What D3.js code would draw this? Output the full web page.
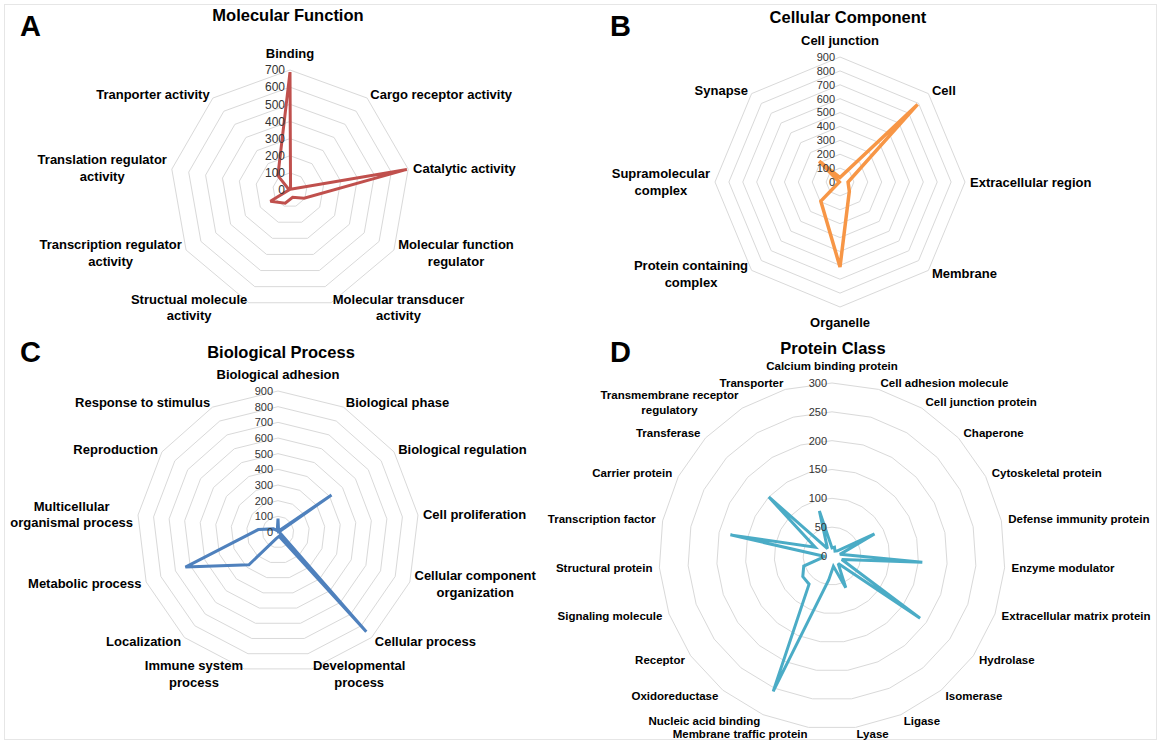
<!DOCTYPE html>
<html>
<head>
<meta charset="utf-8">
<script src="https://cdn.jsdelivr.net/npm/d3@7"></script>
<style>
  body { margin: 0; background: #fff; }
  svg { display: block; font-family: "Liberation Sans", Arial, sans-serif; }
</style>
</head>
<body>
<svg id="fig" width="1160" height="743"></svg>
<script>
// ---- Molecular Function ----
const mfCategories = ["Binding", "Cargo receptor activity", "Catalytic activity",
  "Molecular function\nregulator", "Molecular transducer\nactivity", "Structual molecule\nactivity",
  "Transcription regulator\nactivity", "Translation regulator\nactivity", "Tranporter activity"];
const mfValues = [688, 5, 692, 95, 45, 82, 132, 5, 110];
const mfTicks = [0, 100, 200, 300, 400, 500, 600, 700];

// ---- Cellular Component ----
const ccCategories = ["Cell junction", "Cell", "Extracellular region", "Membrane", "Organelle",
  "Protein containing\ncomplex", "Supramolecular\ncomplex", "Synapse"];
const ccValues = [32, 790, 58, 95, 612, 195, 5, 212];
const ccTicks = [0, 100, 200, 300, 400, 500, 600, 700, 800, 900];

// ---- Biological Process ----
const bpCategories = ["Biological adhesion", "Biological phase", "Biological regulation",
  "Cell proliferation", "Cellular component\norganization", "Cellular process",
  "Developmental\nprocess", "Immune system\nprocess", "Localization", "Metabolic process",
  "Multicellular\norganismal process", "Reproduction", "Response to stimulus"];
const bpValues = [85, 8, 415, 5, 12, 850, 28, 42, 280, 632, 127, 35, 10];
const bpTicks = [0, 100, 200, 300, 400, 500, 600, 700, 800, 900];

// ---- Protein Class ----
const pcCategories = ["Calcium binding protein", "Cell adhesion molecule", "Cell junction protein",
  "Chaperone", "Cytoskeletal protein", "Defense immunity protein", "Enzyme modulator",
  "Extracellular matrix protein", "Hydrolase", "Isomerase", "Ligase", "Lyase",
  "Membrane traffic protein", "Nucleic acid binding", "Oxidoreductase", "Receptor",
  "Signaling molecule", "Structural protein", "Transcription factor", "Carrier protein",
  "Transferase", "Transmembrane receptor\nregulatory", "Transporter"];
const pcValues = [14, 16, 10, 13, 83, 14, 157, 18, 187, 17, 60, 18, 42, 256, 63, 62, 52, 12, 180, 33, 150, 15, 81];
const pcTicks = [0, 50, 100, 150, 200, 250, 300];

const svg = d3.select("#fig");

// light frame around the whole figure
svg.append("rect").attr("x", 4.5).attr("y", 4.5).attr("width", 1152).attr("height", 735)
  .attr("fill", "none").attr("stroke", "#e6e6e6");

function radar(opt) {
  const n = opt.categories.length;
  const R = opt.radius;
  const r = d3.scaleLinear().domain([0, d3.max(opt.ticks)]).range([0, R]);
  const a = d3.scaleLinear().domain([0, n]).range([0, 2 * Math.PI]);
  const shape = d3.lineRadial()
    .angle((d, i) => a(i))
    .radius(d => r(d))
    .curve(d3.curveLinearClosed);

  // panel letter and title
  svg.append("text").attr("x", opt.letterX).attr("y", opt.letterY)
    .attr("font-size", 29).attr("font-weight", "bold").attr("fill", "#000").text(opt.letter);
  svg.append("text").attr("x", opt.titleX).attr("y", opt.titleY)
    .attr("text-anchor", "middle").attr("font-size", 16.5).attr("font-weight", "bold")
    .attr("fill", "#000").text(opt.title);

  const g = svg.append("g").attr("transform", `translate(${opt.cx},${opt.cy})`);

  // grid rings
  g.selectAll("path.ring")
    .data(opt.ticks.filter(t => t > 0))
    .join("path")
    .attr("class", "ring")
    .attr("d", t => shape(d3.range(n).map(() => t)))
    .attr("fill", "none")
    .attr("stroke", "#d9d9d9")
    .attr("stroke-width", 1);

  // data series
  g.append("path")
    .datum(opt.values)
    .attr("d", shape)
    .attr("fill", "none")
    .attr("stroke", opt.color)
    .attr("stroke-width", opt.lineWidth)
    .attr("stroke-linejoin", "miter")
    .attr("stroke-miterlimit", 3);

  // value ticks along the first axis
  g.selectAll("text.tick")
    .data(opt.ticks)
    .join("text")
    .attr("class", "tick")
    .attr("x", -opt.tickGap)
    .attr("y", d => -r(d))
    .attr("dy", "0.35em")
    .attr("text-anchor", "end")
    .attr("font-size", opt.tickSize)
    .attr("fill", "#333")
    .text(d => d);

  // category labels: side labels are centred on their anchor, the labels
  // straight above / below the centre sit outside the outer ring
  const fs = opt.labelSize;
  const lineH = fs * 1.3;
  opt.categories.forEach((cat, i) => {
    const th = a(i);
    const s = Math.sin(th), c = Math.cos(th);
    const px = (R + opt.labelOff) * s;
    const py = -(R + opt.labelOff) * c;
    const lines = cat.split("\n");
    const t = g.append("text")
      .attr("font-size", fs).attr("font-weight", "bold").attr("fill", "#000")
      .attr("text-anchor", "middle");
    const spans = lines.map(l => t.append("tspan").text(l));
    const w = d3.max(spans, sp => sp.node().getComputedTextLength());
    const h = lines.length * lineH;
    let xc = px;
    if (s > 0.08) xc = px + w / 2;
    else if (s < -0.08) xc = px - w / 2;
    let yMid = py;
    if (Math.abs(s) <= 0.08) yMid = c > 0 ? py - (h / 2 + 3) : py + (h / 2 + 2);
    spans.forEach((sp, k) => {
      sp.attr("x", xc).attr("y", yMid - h / 2 + lineH * (k + 0.5)).attr("dy", "0.35em");
    });
  });
}

radar({
  letter: "A", letterX: 20, letterY: 36, title: "Molecular Function", titleX: 288, titleY: 21,
  cx: 290, cy: 190, radius: 120, categories: mfCategories, values: mfValues, ticks: mfTicks,
  color: "#c0504d", lineWidth: 3, tickGap: 5, tickSize: 12, labelSize: 13, labelOff: 5
});

radar({
  letter: "B", letterX: 610, letterY: 36, title: "Cellular Component", titleX: 848, titleY: 23,
  cx: 840, cy: 182, radius: 125, categories: ccCategories, values: ccValues, ticks: ccTicks,
  color: "#f79646", lineWidth: 3.5, tickGap: 5, tickSize: 11, labelSize: 13, labelOff: 5
});

radar({
  letter: "C", letterX: 20, letterY: 362, title: "Biological Process", titleX: 281, titleY: 358,
  cx: 278, cy: 532, radius: 141, categories: bpCategories, values: bpValues, ticks: bpTicks,
  color: "#4f81bd", lineWidth: 3, tickGap: 5, tickSize: 11, labelSize: 13, labelOff: 5
});

radar({
  letter: "D", letterX: 610, letterY: 362, title: "Protein Class", titleX: 833, titleY: 354,
  cx: 832, cy: 556, radius: 173, categories: pcCategories, values: pcValues, ticks: pcTicks,
  color: "#4bacc6", lineWidth: 3, tickGap: 5, tickSize: 11, labelSize: 11.5, labelOff: 7
});
</script>
</body>
</html>
